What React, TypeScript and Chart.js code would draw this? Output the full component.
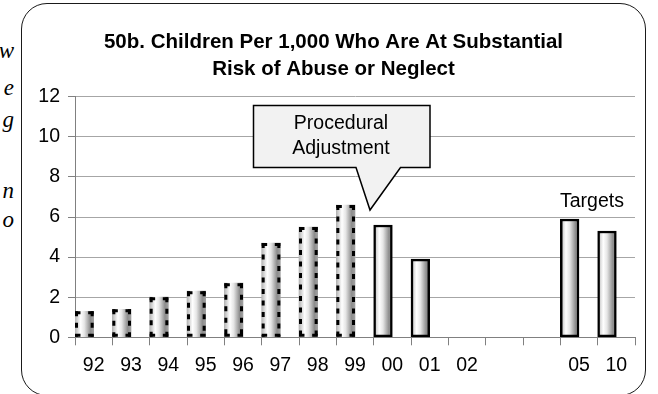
import React, { useEffect, useRef } from "react";
import { Chart, registerables } from "chart.js";

Chart.register(...registerables);

// ---------- data ----------
const CATEGORIES = ["92", "93", "94", "95", "96", "97", "98", "99", "00", "01", "02", "", "", "05", "10"];
const HISTORICAL = [1.3, 1.4, 2.0, 2.3, 2.7, 4.7, 5.5, 6.6, null, null, null, null, null, null, null];
const ACTUAL = [null, null, null, null, null, null, null, null, 5.6, 3.9, null, null, null, null, null];
const TARGETS = [null, null, null, null, null, null, null, null, null, null, null, null, null, 5.9, 5.3];
const SPACER = CATEGORIES.map(() => null);
const Y_TICKS = [0, 2, 4, 6, 8, 10, 12];
const TITLE_LINES = ["50b. Children Per 1,000 Who Are At Substantial", "Risk of Abuse or Neglect"];
const CALLOUT_LINES = ["Procedural", "Adjustment"];
const TARGET_LABEL = "Targets";
const MARGIN_FRAGMENTS = ["w", "e", "g", "n", "o"];

// ---------- styling ----------
const SANS = '"Liberation Sans", Arial, sans-serif';
const W = 658;
const H = 394;
const TICK_FONT = 19.5;

function barGradient(context: any) {
  const chart = context.chart;
  const xs = chart.scales && chart.scales.x;
  if (context.type !== "data" || !xs || !chart.chartArea) return "#d0d0d0";
  const cat = xs.width / CATEGORIES.length;
  const center = xs.getPixelForValue(context.dataIndex);
  const left = center - cat / 2;
  const right = center;
  const g = chart.ctx.createLinearGradient(left, 0, right, 0);
  g.addColorStop(0, "#b4b4b4");
  g.addColorStop(0.3, "#ffffff");
  g.addColorStop(0.5, "#e6e6e6");
  g.addColorStop(0.82, "#8c8c8c");
  g.addColorStop(1, "#a0a0a0");
  return g;
}

const dashedBorderPlugin = {
  id: "dashedBorder",
  afterDatasetsDraw(chart: any) {
    const meta = chart.getDatasetMeta(0);
    const ctx = chart.ctx;
    ctx.save();
    ctx.strokeStyle = "#000";
    ctx.lineWidth = 3;
    ctx.lineCap = "butt";
    meta.data.forEach((el: any, i: number) => {
      if (HISTORICAL[i] == null) return;
      const { x, y, base, width } = el.getProps(["x", "y", "base", "width"], true);
      const l = x - width / 2;
      const r = x + width / 2;
      const inset = 1.5;
      ctx.setLineDash([5, 6.5]);
      ctx.beginPath();
      ctx.moveTo(l + inset, y);
      ctx.lineTo(l + inset, base);
      ctx.moveTo(r - inset, y);
      ctx.lineTo(r - inset, base);
      ctx.stroke();
      ctx.setLineDash([5.5, 40]);
      ctx.beginPath();
      ctx.moveTo(l, y + inset);
      ctx.lineTo(x, y + inset);
      ctx.moveTo(r, y + inset);
      ctx.lineTo(x, y + inset);
      ctx.moveTo(l, base - inset);
      ctx.lineTo(x, base - inset);
      ctx.moveTo(r, base - inset);
      ctx.lineTo(x, base - inset);
      ctx.stroke();
    });
    ctx.restore();
  },
};

const decorPlugin = {
  id: "decor",
  afterDraw(chart: any) {
    const ctx = chart.ctx;
    ctx.save();
    ctx.fillStyle = "#000";
    ctx.textAlign = "center";
    ctx.textBaseline = "alphabetic";
    ctx.font = `bold 20.5px ${SANS}`;
    ctx.fillText(TITLE_LINES[0], 333.5, 48);
    ctx.fillText(TITLE_LINES[1], 333.5, 75);

    // callout
    ctx.beginPath();
    ctx.moveTo(253.5, 105.5);
    ctx.lineTo(430, 105.5);
    ctx.lineTo(430, 167.5);
    ctx.lineTo(400.5, 167.5);
    ctx.lineTo(370, 210);
    ctx.lineTo(356, 167.5);
    ctx.lineTo(253.5, 167.5);
    ctx.closePath();
    ctx.fillStyle = "#f2f2f2";
    ctx.fill();
    ctx.lineWidth = 1.5;
    ctx.strokeStyle = "#000";
    ctx.stroke();

    ctx.fillStyle = "#000";
    ctx.font = `${TICK_FONT}px ${SANS}`;
    ctx.fillText(CALLOUT_LINES[0], 341, 128.5);
    ctx.fillText(CALLOUT_LINES[1], 341, 153.5);
    ctx.fillText(TARGET_LABEL, 592, 206.5);
    ctx.restore();
  },
};

export default function App() {
  const ref = useRef<HTMLCanvasElement | null>(null);

  useEffect(() => {
    if (!ref.current) return;
    const chart = new Chart(ref.current, {
      type: "bar",
      data: {
        labels: CATEGORIES,
        datasets: [
          {
            label: "Historical",
            data: HISTORICAL,
            backgroundColor: barGradient,
            borderWidth: 0,
            stack: "left",
          },
          {
            label: "Actual",
            data: ACTUAL,
            backgroundColor: barGradient,
            borderColor: "#000",
            borderWidth: 2.5,
            borderSkipped: false,
            stack: "left",
          },
          {
            label: "Targets",
            data: TARGETS,
            backgroundColor: barGradient,
            borderColor: "#000",
            borderWidth: 2.5,
            borderSkipped: false,
            stack: "left",
          },
          {
            label: "spacer",
            data: SPACER,
            backgroundColor: "rgba(0,0,0,0)",
            stack: "right",
          },
        ] as any,
      },
      options: {
        responsive: false,
        animation: false,
        devicePixelRatio: 1,
        layout: { padding: { left: 0, right: 23, top: 96.7, bottom: 0 } },
        datasets: { bar: { categoryPercentage: 1, barPercentage: 1 } },
        plugins: {
          legend: { display: false },
          title: { display: false },
          tooltip: { enabled: false },
        },
        scales: {
          x: {
            stacked: true,
            offset: true,
            afterFit(scale: any) {
              scale.height = H - 337.3 - 0;
            },
            grid: {
              offset: true,
              drawOnChartArea: false,
              drawTicks: true,
              tickLength: 8,
              tickColor: "#808080",
              color: "#808080",
            },
            border: { color: "#808080", width: 1 },
            ticks: {
              autoSkip: false,
              maxRotation: 0,
              minRotation: 0,
              padding: 9,
              color: "#000",
              font: { family: SANS, size: TICK_FONT },
            },
          },
          y: {
            stacked: true,
            min: Y_TICKS[0],
            max: Y_TICKS[Y_TICKS.length - 1],
            afterFit(scale: any) {
              scale.width = 75;
            },
            grid: {
              color: "#a6a6a6",
              tickColor: "#808080",
              tickLength: 7,
              lineWidth: 1,
            },
            border: { color: "#808080", width: 1 },
            ticks: {
              stepSize: Y_TICKS[1] - Y_TICKS[0],
              padding: 8,
              color: "#000",
              font: { family: SANS, size: TICK_FONT },
            },
          },
        },
      } as any,
      plugins: [dashedBorderPlugin, decorPlugin],
    });
    return () => chart.destroy();
  }, []);

  const fragTops = [38.5, 75.5, 107.5, 178.5, 207.5];

  return (
    <div
      style={{
        position: "absolute",
        left: 0,
        top: 0,
        width: W,
        height: H,
        overflow: "hidden",
        background: "#fff",
      }}
    >
      {MARGIN_FRAGMENTS.map((t, i) => (
        <div
          key={i}
          style={{
            position: "absolute",
            left: -200,
            width: 214,
            top: fragTops[i],
            textAlign: "right",
            fontFamily: '"Liberation Serif", "Times New Roman", serif',
            fontStyle: "italic",
            fontSize: 23,
            lineHeight: "23px",
            color: "#000",
          }}
        >
          {t}
        </div>
      ))}
      <div
        style={{
          position: "absolute",
          left: 21,
          top: 3,
          width: 625,
          height: 393,
          boxSizing: "border-box",
          border: "1.5px solid #1a1a1a",
          borderRadius: 26,
        }}
      />
      <canvas
        ref={ref}
        width={W}
        height={H}
        style={{ position: "absolute", left: 0, top: 0, width: W, height: H }}
      />
    </div>
  );
}
